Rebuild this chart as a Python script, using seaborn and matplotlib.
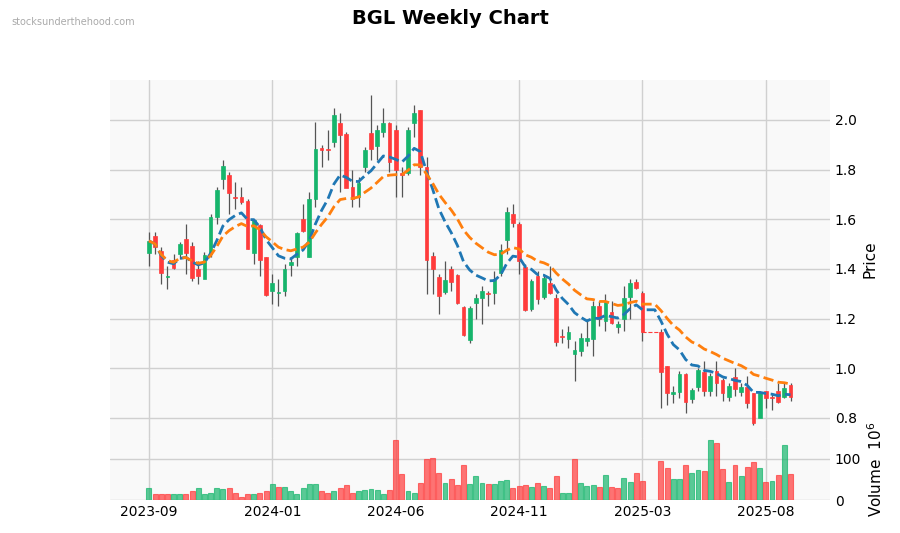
import numpy as np
import pandas as pd
import matplotlib
matplotlib.use("Agg")
import matplotlib.pyplot as plt
import seaborn as sns

nan = np.nan
opens = [1.466,1.533,1.472,1.369,1.436,1.460,1.519,1.493,1.400,1.360,1.459,1.608,1.764,1.779,1.690,1.690,1.674,1.466,1.577,1.450,
         1.310,1.302,1.313,1.417,1.447,1.600,1.450,1.683,1.886,1.883,1.913,1.987,1.944,1.730,1.691,1.809,1.946,1.897,1.953,1.987,
         1.960,1.785,1.788,1.987,2.040,1.812,1.452,1.369,1.309,1.400,1.376,1.247,1.114,1.262,1.284,1.305,1.302,1.385,1.517,1.621,
         1.581,1.409,1.240,1.372,1.288,1.345,1.284,1.131,1.119,1.058,1.071,1.111,1.119,1.251,1.192,1.225,1.165,1.197,1.288,1.348,
         1.302,nan,nan,1.145,1.009,0.898,0.905,0.977,0.875,0.923,0.986,0.910,0.989,0.953,0.886,0.964,0.906,0.925,0.899,0.801,
         0.907,0.886,0.907,0.886,0.933]
closes = [1.513,1.490,1.385,1.373,1.405,1.501,1.463,1.365,1.373,1.456,1.611,1.718,1.815,1.705,1.687,1.671,1.482,1.597,1.435,1.297,
          1.344,1.307,1.399,1.428,1.544,1.554,1.682,1.883,1.881,1.879,2.020,1.941,1.724,1.683,1.748,1.879,1.885,1.960,1.989,1.832,
          1.799,1.780,1.960,2.030,1.812,1.434,1.399,1.289,1.356,1.349,1.264,1.133,1.244,1.283,1.313,1.298,1.360,1.476,1.629,1.586,
          1.430,1.235,1.352,1.280,1.364,1.305,1.107,1.129,1.146,1.074,1.123,1.123,1.251,1.197,1.268,1.184,1.178,1.282,1.345,1.325,
          1.145,nan,nan,0.986,0.902,0.905,0.977,0.862,0.913,0.993,0.910,0.970,0.942,0.902,0.929,0.918,0.925,0.859,0.778,0.902,
          0.879,0.882,0.862,0.921,0.886]
highs = [1.55,1.55,1.49,1.41,1.46,1.51,1.58,1.51,1.43,1.47,1.62,1.73,1.84,1.79,1.75,1.73,1.68,1.60,1.58,1.45,
         1.38,1.36,1.42,1.45,1.55,1.66,1.71,1.99,1.90,1.96,2.05,2.03,1.95,1.80,1.77,1.89,2.10,1.98,2.05,1.99,
         1.98,1.81,1.97,2.06,2.04,1.85,1.47,1.38,1.43,1.41,1.38,1.25,1.25,1.30,1.33,1.31,1.39,1.50,1.65,1.66,
         1.59,1.42,1.36,1.39,1.38,1.41,1.30,1.16,1.17,1.11,1.14,1.20,1.27,1.27,1.30,1.27,1.19,1.33,1.36,1.36,
         1.31,nan,nan,1.16,1.01,0.93,0.99,0.98,0.92,1.00,1.03,0.98,1.03,0.96,0.94,1.00,0.94,0.97,0.90,0.91,
         0.91,0.90,0.94,0.94,0.94]
lows = [1.41,1.46,1.34,1.32,1.40,1.44,1.38,1.35,1.34,1.40,1.45,1.58,1.72,1.62,1.64,1.66,1.48,1.42,1.37,1.29,
        1.26,1.25,1.29,1.37,1.41,1.55,1.45,1.65,1.81,1.84,1.89,1.71,1.73,1.65,1.65,1.79,1.84,1.84,1.93,1.79,
        1.69,1.69,1.78,1.93,1.78,1.30,1.30,1.22,1.30,1.31,1.26,1.13,1.10,1.20,1.18,1.25,1.26,1.37,1.46,1.57,
        1.38,1.23,1.23,1.26,1.28,1.30,1.09,1.10,1.08,0.95,1.05,1.09,1.05,1.17,1.15,1.18,1.14,1.15,1.20,1.32,
        1.11,nan,nan,0.84,0.85,0.86,0.88,0.82,0.86,0.91,0.89,0.89,0.89,0.87,0.87,0.89,0.89,0.84,0.77,0.82,
        0.84,0.83,0.86,0.88,0.87]
volumes = [29,14,14,14,14,14,15,22,29,15,18,29,26,29,17,8,14,15,18,22,
           39,31,31,22,15,29,39,39,22,18,22,29,37,18,22,24,27,24,15,24,
           145,63,22,18,41,98,101,66,41,52,37,84,39,57,41,39,39,46,49,29,
           34,37,32,41,34,29,57,16,18,100,41,34,37,32,61,32,29,54,44,66,
           46,nan,nan,95,78,52,52,84,66,73,71,145,137,76,44,84,59,81,91,78,
           44,46,61,134,63]
tick_pos = [0, 20, 40, 60, 80, 100]
tick_labels = ["2023-09", "2024-01", "2024-06", "2024-11", "2025-03", "2025-08"]

df = pd.DataFrame({"o": opens, "c": closes, "h": highs, "l": lows, "v": volumes})
df["i"] = np.arange(len(df))
df["ma1"] = df["c"].ewm(span=10, ignore_na=True).mean()
df["ma2"] = df["c"].ewm(span=20, ignore_na=True).mean()
df["prev"] = df["c"].ffill().shift(1).fillna(df["o"])

sns.set_style("whitegrid")
plt.rcParams['font.family'] = ['DejaVu Sans']
plt.rcParams['text.color'] = 'black'
plt.rcParams['xtick.color'] = 'black'
plt.rcParams['ytick.color'] = 'black'
plt.rcParams['axes.labelcolor'] = 'black'
fig = plt.figure(figsize=(9, 5.33), dpi=100)
ax = fig.add_axes([110/900, 1-438/533, 720/900, 358/533])
axv = fig.add_axes([110/900, 1-500/533, 720/900, 62/533], sharex=ax)

GREEN, RED = "#16b56c", "#ff3b3b"
for a in (ax, axv):
    a.set_facecolor("#f9f9f9")
    for s in a.spines.values():
        s.set_visible(False)
    a.grid(True, color="#d0d0d0", lw=1)
    a.yaxis.tick_right()
    a.yaxis.set_label_position("right")
    a.tick_params(length=0, labelsize=10)

d = df.dropna(subset=["o"])
up = d["c"] >= d["o"]
cols = np.where(up, GREEN, RED)
vcols = np.where(d["c"] >= d["prev"], GREEN, RED)
body = d["c"] - d["o"]
ax.vlines(d["i"], d["l"], d["h"], color="#555555", lw=0.9, zorder=2)
ax.bar(d["i"], body.where(body.abs() > 0.004, np.sign(body + 1e-9) * 0.004),
       bottom=d["o"], width=0.6, color=cols, edgecolor=cols, lw=0.5, zorder=3)
ax.plot([80, 83], [closes[80], opens[83]], ls="--", color=RED, lw=0.8)
sns.lineplot(data=df, x="i", y="ma1", ax=ax, color="#1f77b4", lw=2, ls="--", zorder=4)
sns.lineplot(data=df, x="i", y="ma2", ax=ax, color="#ff7f0e", lw=2, ls="--", zorder=4)

axv.bar(d["i"], d["v"], width=0.8, color=vcols, alpha=0.7, edgecolor=vcols, lw=0.8)

ax.set_ylim(0.719, 2.161)
ax.set_yticks([0.8, 1.0, 1.2, 1.4, 1.6, 1.8, 2.0])
ax.set_ylabel("Price", fontsize=11)
ax.set_xlabel("")
ax.set_xlim(-6.3, 110.4)
ax.set_xticks(tick_pos)
plt.setp(ax.get_xticklabels(), visible=False)
axv.set_ylim(0, 150)
axv.set_yticks([0, 100])
axv.set_ylabel("Volume  $10^{6}$", fontsize=11)
axv.set_xlabel("")
axv.set_xticks(tick_pos)
axv.set_xticklabels(tick_labels)

fig.text(0.5, 1-18/533, "BGL Weekly Chart", ha="center", va="center", fontsize=14, fontweight="bold", color="black")
fig.text(11/900, 1-22/533, "stocksunderthehood.com", ha="left", va="center", fontsize=7, color="#aaaaaa")
fig.savefig("out.png", dpi=100)
